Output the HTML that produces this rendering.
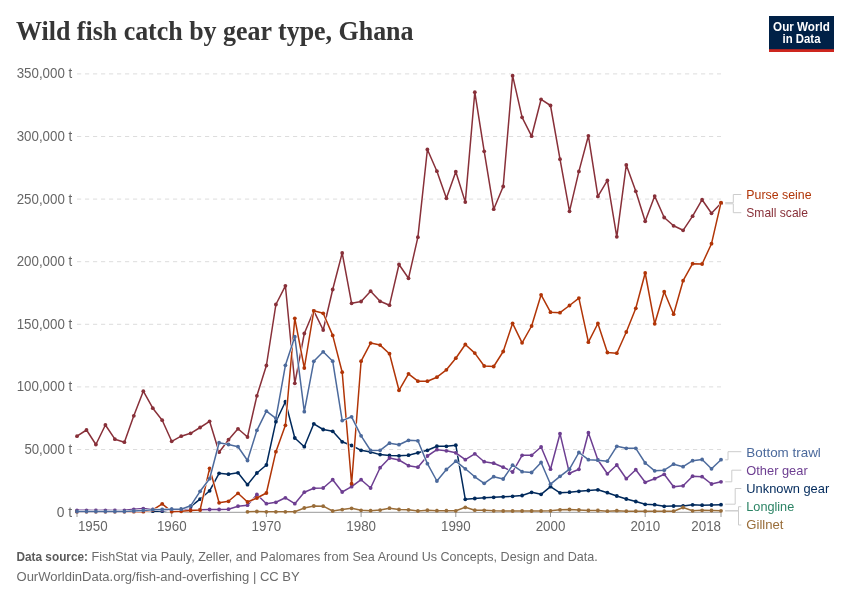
<!DOCTYPE html>
<html><head><meta charset="utf-8"><title>Wild fish catch by gear type, Ghana</title>
<style>
html,body{margin:0;padding:0;background:#fff;}
body{width:850px;height:600px;overflow:hidden;font-family:"Liberation Sans",sans-serif;}
svg{display:block;will-change:transform;}
svg text{font-family:"Liberation Sans",sans-serif;}
</style></head><body>
<svg width="850" height="600" viewBox="0 0 850 600">
<rect width="850" height="600" fill="#ffffff"/>
<text x="16" y="40" font-family="Liberation Serif" style="font-family:'Liberation Serif',serif" font-size="27" font-weight="bold" fill="#363636" textLength="397.5" lengthAdjust="spacingAndGlyphs">Wild fish catch by gear type, Ghana</text>
<g>
<rect x="769" y="16" width="65" height="36" fill="#002147"/>
<rect x="769" y="49.2" width="65" height="2.8" fill="#ce261e"/>
<text x="801.5" y="30.7" text-anchor="middle" font-size="12" font-weight="bold" fill="#ffffff" textLength="56.8" lengthAdjust="spacingAndGlyphs">Our World</text>
<text x="801.5" y="42.7" text-anchor="middle" font-size="12" font-weight="bold" fill="#ffffff" textLength="38" lengthAdjust="spacingAndGlyphs">in Data</text>
</g>
<g font-size="14.1" fill="#666666">
<text x="56.8" y="516.5" textLength="15.4" lengthAdjust="spacingAndGlyphs">0 t</text>
<text x="24.4" y="453.9" textLength="47.8" lengthAdjust="spacingAndGlyphs">50,000 t</text>
<text x="16.7" y="391.3" textLength="55.5" lengthAdjust="spacingAndGlyphs">100,000 t</text>
<text x="16.7" y="328.7" textLength="55.5" lengthAdjust="spacingAndGlyphs">150,000 t</text>
<text x="16.7" y="266.1" textLength="55.5" lengthAdjust="spacingAndGlyphs">200,000 t</text>
<text x="16.7" y="203.5" textLength="55.5" lengthAdjust="spacingAndGlyphs">250,000 t</text>
<text x="16.7" y="140.9" textLength="55.5" lengthAdjust="spacingAndGlyphs">300,000 t</text>
<text x="16.7" y="78.3" textLength="55.5" lengthAdjust="spacingAndGlyphs">350,000 t</text>
<line x1="77.0" x2="77.0" y1="512" y2="517" stroke="#999999" stroke-width="1"/>
<text x="77.9" y="530.5" textLength="29.7" lengthAdjust="spacingAndGlyphs">1950</text>
<line x1="171.7" x2="171.7" y1="512" y2="517" stroke="#999999" stroke-width="1"/>
<text x="156.9" y="530.5" textLength="29.7" lengthAdjust="spacingAndGlyphs">1960</text>
<line x1="266.4" x2="266.4" y1="512" y2="517" stroke="#999999" stroke-width="1"/>
<text x="251.6" y="530.5" textLength="29.7" lengthAdjust="spacingAndGlyphs">1970</text>
<line x1="361.1" x2="361.1" y1="512" y2="517" stroke="#999999" stroke-width="1"/>
<text x="346.3" y="530.5" textLength="29.7" lengthAdjust="spacingAndGlyphs">1980</text>
<line x1="455.8" x2="455.8" y1="512" y2="517" stroke="#999999" stroke-width="1"/>
<text x="441.0" y="530.5" textLength="29.7" lengthAdjust="spacingAndGlyphs">1990</text>
<line x1="550.5" x2="550.5" y1="512" y2="517" stroke="#999999" stroke-width="1"/>
<text x="535.7" y="530.5" textLength="29.7" lengthAdjust="spacingAndGlyphs">2000</text>
<line x1="645.2" x2="645.2" y1="512" y2="517" stroke="#999999" stroke-width="1"/>
<text x="630.4" y="530.5" textLength="29.7" lengthAdjust="spacingAndGlyphs">2010</text>
<line x1="721.0" x2="721.0" y1="512" y2="517" stroke="#999999" stroke-width="1"/>
<text x="691.3" y="530.5" textLength="29.7" lengthAdjust="spacingAndGlyphs">2018</text>
</g>
<line x1="77" x2="721" y1="449.5" y2="449.5" stroke="#dddddd" stroke-width="1" stroke-dasharray="4.2,3.8"/>
<line x1="77" x2="721" y1="386.9" y2="386.9" stroke="#dddddd" stroke-width="1" stroke-dasharray="4.2,3.8"/>
<line x1="77" x2="721" y1="324.3" y2="324.3" stroke="#dddddd" stroke-width="1" stroke-dasharray="4.2,3.8"/>
<line x1="77" x2="721" y1="261.7" y2="261.7" stroke="#dddddd" stroke-width="1" stroke-dasharray="4.2,3.8"/>
<line x1="77" x2="721" y1="199.1" y2="199.1" stroke="#dddddd" stroke-width="1" stroke-dasharray="4.2,3.8"/>
<line x1="77" x2="721" y1="136.5" y2="136.5" stroke="#dddddd" stroke-width="1" stroke-dasharray="4.2,3.8"/>
<line x1="77" x2="721" y1="73.9" y2="73.9" stroke="#dddddd" stroke-width="1" stroke-dasharray="4.2,3.8"/>
<line x1="77" x2="721" y1="512.3" y2="512.3" stroke="#999999" stroke-width="1"/>
<path d="M77.0,511.2 L86.5,511.2 L95.9,511.2 L105.4,511.2 L114.9,511.2 L124.4,511.2 L133.8,511.2 L143.3,511.2 L152.8,511.2 L162.2,511.2 L171.7,509.5 L181.2,509.2 L190.6,506.7 L200.1,499.2 L209.6,490.8 L219.1,473.3 L228.5,474.2 L238.0,472.8 L247.5,484.7 L256.9,473.0 L266.4,465.0 L275.9,421.7 L285.4,401.7 L294.8,438.0 L304.3,446.7 L313.8,423.8 L323.2,429.5 L332.7,431.3 L342.2,441.8 L351.6,445.5 L361.1,450.3 L370.6,452.0 L380.1,454.6 L389.5,455.5 L399.0,455.8 L408.5,455.2 L417.9,452.8 L427.4,450.3 L436.9,446.2 L446.4,446.3 L455.8,445.2 L465.3,499.3 L474.8,498.5 L484.2,497.8 L493.7,497.3 L503.2,496.8 L512.6,496.3 L522.1,495.5 L531.6,492.3 L541.1,494.3 L550.5,486.7 L560.0,492.8 L569.5,492.2 L578.9,491.3 L588.4,490.5 L597.9,489.8 L607.4,492.7 L616.8,496.0 L626.3,499.0 L635.8,501.5 L645.2,504.3 L654.7,504.7 L664.2,506.3 L673.6,506.0 L683.1,506.0 L692.6,504.8 L702.1,505.2 L711.5,505.0 L721.0,504.7" fill="none" stroke="#fff" stroke-width="2.5" stroke-linejoin="round" stroke-linecap="butt"/>
<path d="M77.0,511.2 L86.5,511.2 L95.9,511.2 L105.4,511.2 L114.9,511.2 L124.4,511.2 L133.8,511.2 L143.3,511.2 L152.8,511.2 L162.2,511.2 L171.7,509.5 L181.2,509.2 L190.6,506.7 L200.1,499.2 L209.6,490.8 L219.1,473.3 L228.5,474.2 L238.0,472.8 L247.5,484.7 L256.9,473.0 L266.4,465.0 L275.9,421.7 L285.4,401.7 L294.8,438.0 L304.3,446.7 L313.8,423.8 L323.2,429.5 L332.7,431.3 L342.2,441.8 L351.6,445.5 L361.1,450.3 L370.6,452.0 L380.1,454.6 L389.5,455.5 L399.0,455.8 L408.5,455.2 L417.9,452.8 L427.4,450.3 L436.9,446.2 L446.4,446.3 L455.8,445.2 L465.3,499.3 L474.8,498.5 L484.2,497.8 L493.7,497.3 L503.2,496.8 L512.6,496.3 L522.1,495.5 L531.6,492.3 L541.1,494.3 L550.5,486.7 L560.0,492.8 L569.5,492.2 L578.9,491.3 L588.4,490.5 L597.9,489.8 L607.4,492.7 L616.8,496.0 L626.3,499.0 L635.8,501.5 L645.2,504.3 L654.7,504.7 L664.2,506.3 L673.6,506.0 L683.1,506.0 L692.6,504.8 L702.1,505.2 L711.5,505.0 L721.0,504.7" fill="none" stroke="#00295B" stroke-width="1.5" stroke-linejoin="round" stroke-linecap="butt"/>
<g fill="#00295B"><circle cx="77.0" cy="511.2" r="1.9"/><circle cx="86.5" cy="511.2" r="1.9"/><circle cx="95.9" cy="511.2" r="1.9"/><circle cx="105.4" cy="511.2" r="1.9"/><circle cx="114.9" cy="511.2" r="1.9"/><circle cx="124.4" cy="511.2" r="1.9"/><circle cx="133.8" cy="511.2" r="1.9"/><circle cx="143.3" cy="511.2" r="1.9"/><circle cx="152.8" cy="511.2" r="1.9"/><circle cx="162.2" cy="511.2" r="1.9"/><circle cx="171.7" cy="509.5" r="1.9"/><circle cx="181.2" cy="509.2" r="1.9"/><circle cx="190.6" cy="506.7" r="1.9"/><circle cx="200.1" cy="499.2" r="1.9"/><circle cx="209.6" cy="490.8" r="1.9"/><circle cx="219.1" cy="473.3" r="1.9"/><circle cx="228.5" cy="474.2" r="1.9"/><circle cx="238.0" cy="472.8" r="1.9"/><circle cx="247.5" cy="484.7" r="1.9"/><circle cx="256.9" cy="473.0" r="1.9"/><circle cx="266.4" cy="465.0" r="1.9"/><circle cx="275.9" cy="421.7" r="1.9"/><circle cx="285.4" cy="401.7" r="1.9"/><circle cx="294.8" cy="438.0" r="1.9"/><circle cx="304.3" cy="446.7" r="1.9"/><circle cx="313.8" cy="423.8" r="1.9"/><circle cx="323.2" cy="429.5" r="1.9"/><circle cx="332.7" cy="431.3" r="1.9"/><circle cx="342.2" cy="441.8" r="1.9"/><circle cx="351.6" cy="445.5" r="1.9"/><circle cx="361.1" cy="450.3" r="1.9"/><circle cx="370.6" cy="452.0" r="1.9"/><circle cx="380.1" cy="454.6" r="1.9"/><circle cx="389.5" cy="455.5" r="1.9"/><circle cx="399.0" cy="455.8" r="1.9"/><circle cx="408.5" cy="455.2" r="1.9"/><circle cx="417.9" cy="452.8" r="1.9"/><circle cx="427.4" cy="450.3" r="1.9"/><circle cx="436.9" cy="446.2" r="1.9"/><circle cx="446.4" cy="446.3" r="1.9"/><circle cx="455.8" cy="445.2" r="1.9"/><circle cx="465.3" cy="499.3" r="1.9"/><circle cx="474.8" cy="498.5" r="1.9"/><circle cx="484.2" cy="497.8" r="1.9"/><circle cx="493.7" cy="497.3" r="1.9"/><circle cx="503.2" cy="496.8" r="1.9"/><circle cx="512.6" cy="496.3" r="1.9"/><circle cx="522.1" cy="495.5" r="1.9"/><circle cx="531.6" cy="492.3" r="1.9"/><circle cx="541.1" cy="494.3" r="1.9"/><circle cx="550.5" cy="486.7" r="1.9"/><circle cx="560.0" cy="492.8" r="1.9"/><circle cx="569.5" cy="492.2" r="1.9"/><circle cx="578.9" cy="491.3" r="1.9"/><circle cx="588.4" cy="490.5" r="1.9"/><circle cx="597.9" cy="489.8" r="1.9"/><circle cx="607.4" cy="492.7" r="1.9"/><circle cx="616.8" cy="496.0" r="1.9"/><circle cx="626.3" cy="499.0" r="1.9"/><circle cx="635.8" cy="501.5" r="1.9"/><circle cx="645.2" cy="504.3" r="1.9"/><circle cx="654.7" cy="504.7" r="1.9"/><circle cx="664.2" cy="506.3" r="1.9"/><circle cx="673.6" cy="506.0" r="1.9"/><circle cx="683.1" cy="506.0" r="1.9"/><circle cx="692.6" cy="504.8" r="1.9"/><circle cx="702.1" cy="505.2" r="1.9"/><circle cx="711.5" cy="505.0" r="1.9"/><circle cx="721.0" cy="504.7" r="1.9"/></g>
<path d="M77.0,510.3 L86.5,510.3 L95.9,510.5 L105.4,510.3 L114.9,510.5 L124.4,510.3 L133.8,509.3 L143.3,508.6 L152.8,509.5 L162.2,510.0 L171.7,509.7 L181.2,509.7 L190.6,509.7 L200.1,509.7 L209.6,509.5 L219.1,509.5 L228.5,509.2 L238.0,506.2 L247.5,505.2 L256.9,494.5 L266.4,503.7 L275.9,502.3 L285.4,497.8 L294.8,503.7 L304.3,492.2 L313.8,488.3 L323.2,488.0 L332.7,479.7 L342.2,492.0 L351.6,486.7 L361.1,479.7 L370.6,488.0 L380.1,467.7 L389.5,458.0 L399.0,460.0 L408.5,465.7 L417.9,467.2 L427.4,456.0 L436.9,449.7 L446.4,450.8 L455.8,452.8 L465.3,459.7 L474.8,453.8 L484.2,461.7 L493.7,463.2 L503.2,467.2 L512.6,472.0 L522.1,455.3 L531.6,455.3 L541.1,447.0 L550.5,469.2 L560.0,433.7 L569.5,473.3 L578.9,469.3 L588.4,432.7 L597.9,460.0 L607.4,473.8 L616.8,465.0 L626.3,478.7 L635.8,469.7 L645.2,482.3 L654.7,478.7 L664.2,474.3 L673.6,486.7 L683.1,485.8 L692.6,476.2 L702.1,476.7 L711.5,484.0 L721.0,481.8" fill="none" stroke="#fff" stroke-width="2.5" stroke-linejoin="round" stroke-linecap="butt"/>
<path d="M77.0,510.3 L86.5,510.3 L95.9,510.5 L105.4,510.3 L114.9,510.5 L124.4,510.3 L133.8,509.3 L143.3,508.6 L152.8,509.5 L162.2,510.0 L171.7,509.7 L181.2,509.7 L190.6,509.7 L200.1,509.7 L209.6,509.5 L219.1,509.5 L228.5,509.2 L238.0,506.2 L247.5,505.2 L256.9,494.5 L266.4,503.7 L275.9,502.3 L285.4,497.8 L294.8,503.7 L304.3,492.2 L313.8,488.3 L323.2,488.0 L332.7,479.7 L342.2,492.0 L351.6,486.7 L361.1,479.7 L370.6,488.0 L380.1,467.7 L389.5,458.0 L399.0,460.0 L408.5,465.7 L417.9,467.2 L427.4,456.0 L436.9,449.7 L446.4,450.8 L455.8,452.8 L465.3,459.7 L474.8,453.8 L484.2,461.7 L493.7,463.2 L503.2,467.2 L512.6,472.0 L522.1,455.3 L531.6,455.3 L541.1,447.0 L550.5,469.2 L560.0,433.7 L569.5,473.3 L578.9,469.3 L588.4,432.7 L597.9,460.0 L607.4,473.8 L616.8,465.0 L626.3,478.7 L635.8,469.7 L645.2,482.3 L654.7,478.7 L664.2,474.3 L673.6,486.7 L683.1,485.8 L692.6,476.2 L702.1,476.7 L711.5,484.0 L721.0,481.8" fill="none" stroke="#6D3E91" stroke-width="1.5" stroke-linejoin="round" stroke-linecap="butt"/>
<g fill="#6D3E91"><circle cx="77.0" cy="510.3" r="1.9"/><circle cx="86.5" cy="510.3" r="1.9"/><circle cx="95.9" cy="510.5" r="1.9"/><circle cx="105.4" cy="510.3" r="1.9"/><circle cx="114.9" cy="510.5" r="1.9"/><circle cx="124.4" cy="510.3" r="1.9"/><circle cx="133.8" cy="509.3" r="1.9"/><circle cx="143.3" cy="508.6" r="1.9"/><circle cx="152.8" cy="509.5" r="1.9"/><circle cx="162.2" cy="510.0" r="1.9"/><circle cx="171.7" cy="509.7" r="1.9"/><circle cx="181.2" cy="509.7" r="1.9"/><circle cx="190.6" cy="509.7" r="1.9"/><circle cx="200.1" cy="509.7" r="1.9"/><circle cx="209.6" cy="509.5" r="1.9"/><circle cx="219.1" cy="509.5" r="1.9"/><circle cx="228.5" cy="509.2" r="1.9"/><circle cx="238.0" cy="506.2" r="1.9"/><circle cx="247.5" cy="505.2" r="1.9"/><circle cx="256.9" cy="494.5" r="1.9"/><circle cx="266.4" cy="503.7" r="1.9"/><circle cx="275.9" cy="502.3" r="1.9"/><circle cx="285.4" cy="497.8" r="1.9"/><circle cx="294.8" cy="503.7" r="1.9"/><circle cx="304.3" cy="492.2" r="1.9"/><circle cx="313.8" cy="488.3" r="1.9"/><circle cx="323.2" cy="488.0" r="1.9"/><circle cx="332.7" cy="479.7" r="1.9"/><circle cx="342.2" cy="492.0" r="1.9"/><circle cx="351.6" cy="486.7" r="1.9"/><circle cx="361.1" cy="479.7" r="1.9"/><circle cx="370.6" cy="488.0" r="1.9"/><circle cx="380.1" cy="467.7" r="1.9"/><circle cx="389.5" cy="458.0" r="1.9"/><circle cx="399.0" cy="460.0" r="1.9"/><circle cx="408.5" cy="465.7" r="1.9"/><circle cx="417.9" cy="467.2" r="1.9"/><circle cx="427.4" cy="456.0" r="1.9"/><circle cx="436.9" cy="449.7" r="1.9"/><circle cx="446.4" cy="450.8" r="1.9"/><circle cx="455.8" cy="452.8" r="1.9"/><circle cx="465.3" cy="459.7" r="1.9"/><circle cx="474.8" cy="453.8" r="1.9"/><circle cx="484.2" cy="461.7" r="1.9"/><circle cx="493.7" cy="463.2" r="1.9"/><circle cx="503.2" cy="467.2" r="1.9"/><circle cx="512.6" cy="472.0" r="1.9"/><circle cx="522.1" cy="455.3" r="1.9"/><circle cx="531.6" cy="455.3" r="1.9"/><circle cx="541.1" cy="447.0" r="1.9"/><circle cx="550.5" cy="469.2" r="1.9"/><circle cx="560.0" cy="433.7" r="1.9"/><circle cx="569.5" cy="473.3" r="1.9"/><circle cx="578.9" cy="469.3" r="1.9"/><circle cx="588.4" cy="432.7" r="1.9"/><circle cx="597.9" cy="460.0" r="1.9"/><circle cx="607.4" cy="473.8" r="1.9"/><circle cx="616.8" cy="465.0" r="1.9"/><circle cx="626.3" cy="478.7" r="1.9"/><circle cx="635.8" cy="469.7" r="1.9"/><circle cx="645.2" cy="482.3" r="1.9"/><circle cx="654.7" cy="478.7" r="1.9"/><circle cx="664.2" cy="474.3" r="1.9"/><circle cx="673.6" cy="486.7" r="1.9"/><circle cx="683.1" cy="485.8" r="1.9"/><circle cx="692.6" cy="476.2" r="1.9"/><circle cx="702.1" cy="476.7" r="1.9"/><circle cx="711.5" cy="484.0" r="1.9"/><circle cx="721.0" cy="481.8" r="1.9"/></g>
<path d="M247.5,511.8 L256.9,511.5 L266.4,511.8 L275.9,511.8 L285.4,511.8 L294.8,511.8 L304.3,508.0 L313.8,506.0 L323.2,506.2 L332.7,511.0 L342.2,509.6 L351.6,508.3 L361.1,510.3 L370.6,510.7 L380.1,510.1 L389.5,508.2 L399.0,509.5 L408.5,509.8 L417.9,511.0 L427.4,510.2 L436.9,510.7 L446.4,510.7 L455.8,510.8 L465.3,507.3 L474.8,510.2 L484.2,510.3 L493.7,510.8 L503.2,511.0 L512.6,511.0 L522.1,511.0 L531.6,511.0 L541.1,511.0 L550.5,510.8 L560.0,509.8 L569.5,509.5 L578.9,510.0 L588.4,510.5 L597.9,510.5 L607.4,511.2 L616.8,510.7 L626.3,511.2 L635.8,511.2 L645.2,511.2 L654.7,511.2 L664.2,511.2 L673.6,511.2 L683.1,507.5 L692.6,510.8 L702.1,510.3 L711.5,510.5 L721.0,510.8" fill="none" stroke="#fff" stroke-width="2.5" stroke-linejoin="round" stroke-linecap="butt"/>
<path d="M247.5,511.8 L256.9,511.5 L266.4,511.8 L275.9,511.8 L285.4,511.8 L294.8,511.8 L304.3,508.0 L313.8,506.0 L323.2,506.2 L332.7,511.0 L342.2,509.6 L351.6,508.3 L361.1,510.3 L370.6,510.7 L380.1,510.1 L389.5,508.2 L399.0,509.5 L408.5,509.8 L417.9,511.0 L427.4,510.2 L436.9,510.7 L446.4,510.7 L455.8,510.8 L465.3,507.3 L474.8,510.2 L484.2,510.3 L493.7,510.8 L503.2,511.0 L512.6,511.0 L522.1,511.0 L531.6,511.0 L541.1,511.0 L550.5,510.8 L560.0,509.8 L569.5,509.5 L578.9,510.0 L588.4,510.5 L597.9,510.5 L607.4,511.2 L616.8,510.7 L626.3,511.2 L635.8,511.2 L645.2,511.2 L654.7,511.2 L664.2,511.2 L673.6,511.2 L683.1,507.5 L692.6,510.8 L702.1,510.3 L711.5,510.5 L721.0,510.8" fill="none" stroke="#996D39" stroke-width="1.5" stroke-linejoin="round" stroke-linecap="butt"/>
<g fill="#996D39"><circle cx="247.5" cy="511.8" r="1.9"/><circle cx="256.9" cy="511.5" r="1.9"/><circle cx="266.4" cy="511.8" r="1.9"/><circle cx="275.9" cy="511.8" r="1.9"/><circle cx="285.4" cy="511.8" r="1.9"/><circle cx="294.8" cy="511.8" r="1.9"/><circle cx="304.3" cy="508.0" r="1.9"/><circle cx="313.8" cy="506.0" r="1.9"/><circle cx="323.2" cy="506.2" r="1.9"/><circle cx="332.7" cy="511.0" r="1.9"/><circle cx="342.2" cy="509.6" r="1.9"/><circle cx="351.6" cy="508.3" r="1.9"/><circle cx="361.1" cy="510.3" r="1.9"/><circle cx="370.6" cy="510.7" r="1.9"/><circle cx="380.1" cy="510.1" r="1.9"/><circle cx="389.5" cy="508.2" r="1.9"/><circle cx="399.0" cy="509.5" r="1.9"/><circle cx="408.5" cy="509.8" r="1.9"/><circle cx="417.9" cy="511.0" r="1.9"/><circle cx="427.4" cy="510.2" r="1.9"/><circle cx="436.9" cy="510.7" r="1.9"/><circle cx="446.4" cy="510.7" r="1.9"/><circle cx="455.8" cy="510.8" r="1.9"/><circle cx="465.3" cy="507.3" r="1.9"/><circle cx="474.8" cy="510.2" r="1.9"/><circle cx="484.2" cy="510.3" r="1.9"/><circle cx="493.7" cy="510.8" r="1.9"/><circle cx="503.2" cy="511.0" r="1.9"/><circle cx="512.6" cy="511.0" r="1.9"/><circle cx="522.1" cy="511.0" r="1.9"/><circle cx="531.6" cy="511.0" r="1.9"/><circle cx="541.1" cy="511.0" r="1.9"/><circle cx="550.5" cy="510.8" r="1.9"/><circle cx="560.0" cy="509.8" r="1.9"/><circle cx="569.5" cy="509.5" r="1.9"/><circle cx="578.9" cy="510.0" r="1.9"/><circle cx="588.4" cy="510.5" r="1.9"/><circle cx="597.9" cy="510.5" r="1.9"/><circle cx="607.4" cy="511.2" r="1.9"/><circle cx="616.8" cy="510.7" r="1.9"/><circle cx="626.3" cy="511.2" r="1.9"/><circle cx="635.8" cy="511.2" r="1.9"/><circle cx="645.2" cy="511.2" r="1.9"/><circle cx="654.7" cy="511.2" r="1.9"/><circle cx="664.2" cy="511.2" r="1.9"/><circle cx="673.6" cy="511.2" r="1.9"/><circle cx="683.1" cy="507.5" r="1.9"/><circle cx="692.6" cy="510.8" r="1.9"/><circle cx="702.1" cy="510.3" r="1.9"/><circle cx="711.5" cy="510.5" r="1.9"/><circle cx="721.0" cy="510.8" r="1.9"/></g>
<path d="M77.0,436.2 L86.5,430.0 L95.9,444.5 L105.4,425.0 L114.9,439.2 L124.4,442.2 L133.8,415.8 L143.3,391.2 L152.8,408.2 L162.2,420.2 L171.7,441.3 L181.2,436.2 L190.6,433.3 L200.1,427.5 L209.6,421.3 L219.1,452.2 L228.5,439.7 L238.0,428.8 L247.5,437.0 L256.9,395.8 L266.4,365.5 L275.9,304.5 L285.4,285.8 L294.8,383.3 L304.3,333.5 L313.8,310.8 L323.2,330.0 L332.7,289.5 L342.2,253.0 L351.6,303.3 L361.1,301.5 L370.6,291.2 L380.1,301.3 L389.5,305.2 L399.0,264.5 L408.5,278.3 L417.9,237.2 L427.4,149.5 L436.9,171.2 L446.4,198.3 L455.8,171.7 L465.3,202.1 L474.8,92.2 L484.2,151.3 L493.7,209.2 L503.2,186.5 L512.6,75.7 L522.1,117.3 L531.6,136.2 L541.1,99.3 L550.5,105.5 L560.0,159.2 L569.5,211.3 L578.9,171.4 L588.4,135.8 L597.9,196.4 L607.4,180.4 L616.8,236.8 L626.3,164.9 L635.8,191.3 L645.2,221.3 L654.7,196.1 L664.2,217.5 L673.6,225.8 L683.1,230.3 L692.6,216.2 L702.1,199.7 L711.5,213.3 L721.0,203.2" fill="none" stroke="#fff" stroke-width="2.5" stroke-linejoin="round" stroke-linecap="butt"/>
<path d="M77.0,436.2 L86.5,430.0 L95.9,444.5 L105.4,425.0 L114.9,439.2 L124.4,442.2 L133.8,415.8 L143.3,391.2 L152.8,408.2 L162.2,420.2 L171.7,441.3 L181.2,436.2 L190.6,433.3 L200.1,427.5 L209.6,421.3 L219.1,452.2 L228.5,439.7 L238.0,428.8 L247.5,437.0 L256.9,395.8 L266.4,365.5 L275.9,304.5 L285.4,285.8 L294.8,383.3 L304.3,333.5 L313.8,310.8 L323.2,330.0 L332.7,289.5 L342.2,253.0 L351.6,303.3 L361.1,301.5 L370.6,291.2 L380.1,301.3 L389.5,305.2 L399.0,264.5 L408.5,278.3 L417.9,237.2 L427.4,149.5 L436.9,171.2 L446.4,198.3 L455.8,171.7 L465.3,202.1 L474.8,92.2 L484.2,151.3 L493.7,209.2 L503.2,186.5 L512.6,75.7 L522.1,117.3 L531.6,136.2 L541.1,99.3 L550.5,105.5 L560.0,159.2 L569.5,211.3 L578.9,171.4 L588.4,135.8 L597.9,196.4 L607.4,180.4 L616.8,236.8 L626.3,164.9 L635.8,191.3 L645.2,221.3 L654.7,196.1 L664.2,217.5 L673.6,225.8 L683.1,230.3 L692.6,216.2 L702.1,199.7 L711.5,213.3 L721.0,203.2" fill="none" stroke="#883039" stroke-width="1.5" stroke-linejoin="round" stroke-linecap="butt"/>
<g fill="#883039"><circle cx="77.0" cy="436.2" r="1.9"/><circle cx="86.5" cy="430.0" r="1.9"/><circle cx="95.9" cy="444.5" r="1.9"/><circle cx="105.4" cy="425.0" r="1.9"/><circle cx="114.9" cy="439.2" r="1.9"/><circle cx="124.4" cy="442.2" r="1.9"/><circle cx="133.8" cy="415.8" r="1.9"/><circle cx="143.3" cy="391.2" r="1.9"/><circle cx="152.8" cy="408.2" r="1.9"/><circle cx="162.2" cy="420.2" r="1.9"/><circle cx="171.7" cy="441.3" r="1.9"/><circle cx="181.2" cy="436.2" r="1.9"/><circle cx="190.6" cy="433.3" r="1.9"/><circle cx="200.1" cy="427.5" r="1.9"/><circle cx="209.6" cy="421.3" r="1.9"/><circle cx="219.1" cy="452.2" r="1.9"/><circle cx="228.5" cy="439.7" r="1.9"/><circle cx="238.0" cy="428.8" r="1.9"/><circle cx="247.5" cy="437.0" r="1.9"/><circle cx="256.9" cy="395.8" r="1.9"/><circle cx="266.4" cy="365.5" r="1.9"/><circle cx="275.9" cy="304.5" r="1.9"/><circle cx="285.4" cy="285.8" r="1.9"/><circle cx="294.8" cy="383.3" r="1.9"/><circle cx="304.3" cy="333.5" r="1.9"/><circle cx="313.8" cy="310.8" r="1.9"/><circle cx="323.2" cy="330.0" r="1.9"/><circle cx="332.7" cy="289.5" r="1.9"/><circle cx="342.2" cy="253.0" r="1.9"/><circle cx="351.6" cy="303.3" r="1.9"/><circle cx="361.1" cy="301.5" r="1.9"/><circle cx="370.6" cy="291.2" r="1.9"/><circle cx="380.1" cy="301.3" r="1.9"/><circle cx="389.5" cy="305.2" r="1.9"/><circle cx="399.0" cy="264.5" r="1.9"/><circle cx="408.5" cy="278.3" r="1.9"/><circle cx="417.9" cy="237.2" r="1.9"/><circle cx="427.4" cy="149.5" r="1.9"/><circle cx="436.9" cy="171.2" r="1.9"/><circle cx="446.4" cy="198.3" r="1.9"/><circle cx="455.8" cy="171.7" r="1.9"/><circle cx="465.3" cy="202.1" r="1.9"/><circle cx="474.8" cy="92.2" r="1.9"/><circle cx="484.2" cy="151.3" r="1.9"/><circle cx="493.7" cy="209.2" r="1.9"/><circle cx="503.2" cy="186.5" r="1.9"/><circle cx="512.6" cy="75.7" r="1.9"/><circle cx="522.1" cy="117.3" r="1.9"/><circle cx="531.6" cy="136.2" r="1.9"/><circle cx="541.1" cy="99.3" r="1.9"/><circle cx="550.5" cy="105.5" r="1.9"/><circle cx="560.0" cy="159.2" r="1.9"/><circle cx="569.5" cy="211.3" r="1.9"/><circle cx="578.9" cy="171.4" r="1.9"/><circle cx="588.4" cy="135.8" r="1.9"/><circle cx="597.9" cy="196.4" r="1.9"/><circle cx="607.4" cy="180.4" r="1.9"/><circle cx="616.8" cy="236.8" r="1.9"/><circle cx="626.3" cy="164.9" r="1.9"/><circle cx="635.8" cy="191.3" r="1.9"/><circle cx="645.2" cy="221.3" r="1.9"/><circle cx="654.7" cy="196.1" r="1.9"/><circle cx="664.2" cy="217.5" r="1.9"/><circle cx="673.6" cy="225.8" r="1.9"/><circle cx="683.1" cy="230.3" r="1.9"/><circle cx="692.6" cy="216.2" r="1.9"/><circle cx="702.1" cy="199.7" r="1.9"/><circle cx="711.5" cy="213.3" r="1.9"/><circle cx="721.0" cy="203.2" r="1.9"/></g>
<path d="M77.0,511.7 L86.5,511.7 L95.9,511.7 L105.4,511.7 L114.9,511.7 L124.4,511.7 L133.8,511.7 L143.3,511.7 L152.8,510.0 L162.2,503.8 L171.7,511.7 L181.2,511.3 L190.6,510.5 L200.1,510.0 L209.6,468.3 L219.1,502.8 L228.5,501.3 L238.0,493.3 L247.5,502.0 L256.9,498.0 L266.4,493.0 L275.9,451.7 L285.4,425.3 L294.8,318.3 L304.3,368.0 L313.8,310.8 L323.2,313.3 L332.7,335.4 L342.2,372.2 L351.6,483.7 L361.1,361.2 L370.6,343.1 L380.1,345.1 L389.5,353.7 L399.0,390.3 L408.5,373.8 L417.9,381.2 L427.4,381.2 L436.9,377.2 L446.4,369.8 L455.8,358.2 L465.3,344.5 L474.8,353.1 L484.2,366.0 L493.7,366.5 L503.2,351.5 L512.6,323.3 L522.1,342.8 L531.6,326.0 L541.1,294.8 L550.5,312.2 L560.0,312.7 L569.5,305.5 L578.9,298.1 L588.4,342.2 L597.9,323.5 L607.4,352.5 L616.8,353.2 L626.3,332.0 L635.8,308.3 L645.2,273.0 L654.7,323.8 L664.2,291.7 L673.6,314.2 L683.1,280.7 L692.6,263.7 L702.1,264.0 L711.5,243.7 L721.0,202.7" fill="none" stroke="#fff" stroke-width="2.5" stroke-linejoin="round" stroke-linecap="butt"/>
<path d="M77.0,511.7 L86.5,511.7 L95.9,511.7 L105.4,511.7 L114.9,511.7 L124.4,511.7 L133.8,511.7 L143.3,511.7 L152.8,510.0 L162.2,503.8 L171.7,511.7 L181.2,511.3 L190.6,510.5 L200.1,510.0 L209.6,468.3 L219.1,502.8 L228.5,501.3 L238.0,493.3 L247.5,502.0 L256.9,498.0 L266.4,493.0 L275.9,451.7 L285.4,425.3 L294.8,318.3 L304.3,368.0 L313.8,310.8 L323.2,313.3 L332.7,335.4 L342.2,372.2 L351.6,483.7 L361.1,361.2 L370.6,343.1 L380.1,345.1 L389.5,353.7 L399.0,390.3 L408.5,373.8 L417.9,381.2 L427.4,381.2 L436.9,377.2 L446.4,369.8 L455.8,358.2 L465.3,344.5 L474.8,353.1 L484.2,366.0 L493.7,366.5 L503.2,351.5 L512.6,323.3 L522.1,342.8 L531.6,326.0 L541.1,294.8 L550.5,312.2 L560.0,312.7 L569.5,305.5 L578.9,298.1 L588.4,342.2 L597.9,323.5 L607.4,352.5 L616.8,353.2 L626.3,332.0 L635.8,308.3 L645.2,273.0 L654.7,323.8 L664.2,291.7 L673.6,314.2 L683.1,280.7 L692.6,263.7 L702.1,264.0 L711.5,243.7 L721.0,202.7" fill="none" stroke="#B13507" stroke-width="1.5" stroke-linejoin="round" stroke-linecap="butt"/>
<g fill="#B13507"><circle cx="77.0" cy="511.7" r="1.9"/><circle cx="86.5" cy="511.7" r="1.9"/><circle cx="95.9" cy="511.7" r="1.9"/><circle cx="105.4" cy="511.7" r="1.9"/><circle cx="114.9" cy="511.7" r="1.9"/><circle cx="124.4" cy="511.7" r="1.9"/><circle cx="133.8" cy="511.7" r="1.9"/><circle cx="143.3" cy="511.7" r="1.9"/><circle cx="152.8" cy="510.0" r="1.9"/><circle cx="162.2" cy="503.8" r="1.9"/><circle cx="171.7" cy="511.7" r="1.9"/><circle cx="181.2" cy="511.3" r="1.9"/><circle cx="190.6" cy="510.5" r="1.9"/><circle cx="200.1" cy="510.0" r="1.9"/><circle cx="209.6" cy="468.3" r="1.9"/><circle cx="219.1" cy="502.8" r="1.9"/><circle cx="228.5" cy="501.3" r="1.9"/><circle cx="238.0" cy="493.3" r="1.9"/><circle cx="247.5" cy="502.0" r="1.9"/><circle cx="256.9" cy="498.0" r="1.9"/><circle cx="266.4" cy="493.0" r="1.9"/><circle cx="275.9" cy="451.7" r="1.9"/><circle cx="285.4" cy="425.3" r="1.9"/><circle cx="294.8" cy="318.3" r="1.9"/><circle cx="304.3" cy="368.0" r="1.9"/><circle cx="313.8" cy="310.8" r="1.9"/><circle cx="323.2" cy="313.3" r="1.9"/><circle cx="332.7" cy="335.4" r="1.9"/><circle cx="342.2" cy="372.2" r="1.9"/><circle cx="351.6" cy="483.7" r="1.9"/><circle cx="361.1" cy="361.2" r="1.9"/><circle cx="370.6" cy="343.1" r="1.9"/><circle cx="380.1" cy="345.1" r="1.9"/><circle cx="389.5" cy="353.7" r="1.9"/><circle cx="399.0" cy="390.3" r="1.9"/><circle cx="408.5" cy="373.8" r="1.9"/><circle cx="417.9" cy="381.2" r="1.9"/><circle cx="427.4" cy="381.2" r="1.9"/><circle cx="436.9" cy="377.2" r="1.9"/><circle cx="446.4" cy="369.8" r="1.9"/><circle cx="455.8" cy="358.2" r="1.9"/><circle cx="465.3" cy="344.5" r="1.9"/><circle cx="474.8" cy="353.1" r="1.9"/><circle cx="484.2" cy="366.0" r="1.9"/><circle cx="493.7" cy="366.5" r="1.9"/><circle cx="503.2" cy="351.5" r="1.9"/><circle cx="512.6" cy="323.3" r="1.9"/><circle cx="522.1" cy="342.8" r="1.9"/><circle cx="531.6" cy="326.0" r="1.9"/><circle cx="541.1" cy="294.8" r="1.9"/><circle cx="550.5" cy="312.2" r="1.9"/><circle cx="560.0" cy="312.7" r="1.9"/><circle cx="569.5" cy="305.5" r="1.9"/><circle cx="578.9" cy="298.1" r="1.9"/><circle cx="588.4" cy="342.2" r="1.9"/><circle cx="597.9" cy="323.5" r="1.9"/><circle cx="607.4" cy="352.5" r="1.9"/><circle cx="616.8" cy="353.2" r="1.9"/><circle cx="626.3" cy="332.0" r="1.9"/><circle cx="635.8" cy="308.3" r="1.9"/><circle cx="645.2" cy="273.0" r="1.9"/><circle cx="654.7" cy="323.8" r="1.9"/><circle cx="664.2" cy="291.7" r="1.9"/><circle cx="673.6" cy="314.2" r="1.9"/><circle cx="683.1" cy="280.7" r="1.9"/><circle cx="692.6" cy="263.7" r="1.9"/><circle cx="702.1" cy="264.0" r="1.9"/><circle cx="711.5" cy="243.7" r="1.9"/><circle cx="721.0" cy="202.7" r="1.9"/></g>
<path d="M77.0,511.5 L86.5,511.5 L95.9,511.5 L105.4,511.5 L114.9,511.5 L124.4,511.5 L133.8,511.0 L143.3,510.5 L152.8,509.7 L162.2,509.4 L171.7,509.2 L181.2,509.2 L190.6,505.8 L200.1,491.3 L209.6,478.7 L219.1,442.7 L228.5,444.5 L238.0,446.7 L247.5,460.5 L256.9,430.3 L266.4,411.2 L275.9,418.3 L285.4,365.3 L294.8,336.7 L304.3,411.7 L313.8,361.3 L323.2,351.8 L332.7,361.2 L342.2,420.6 L351.6,416.8 L361.1,435.8 L370.6,450.5 L380.1,450.3 L389.5,443.2 L399.0,444.7 L408.5,440.3 L417.9,440.8 L427.4,463.7 L436.9,481.0 L446.4,469.5 L455.8,461.2 L465.3,468.8 L474.8,476.8 L484.2,483.3 L493.7,476.7 L503.2,479.0 L512.6,465.2 L522.1,471.7 L531.6,472.5 L541.1,462.5 L550.5,484.2 L560.0,476.3 L569.5,469.2 L578.9,452.5 L588.4,459.7 L597.9,460.2 L607.4,461.2 L616.8,446.3 L626.3,448.3 L635.8,448.3 L645.2,463.0 L654.7,470.8 L664.2,470.2 L673.6,464.2 L683.1,466.7 L692.6,460.7 L702.1,459.5 L711.5,468.8 L721.0,459.7" fill="none" stroke="#fff" stroke-width="2.5" stroke-linejoin="round" stroke-linecap="butt"/>
<path d="M77.0,511.5 L86.5,511.5 L95.9,511.5 L105.4,511.5 L114.9,511.5 L124.4,511.5 L133.8,511.0 L143.3,510.5 L152.8,509.7 L162.2,509.4 L171.7,509.2 L181.2,509.2 L190.6,505.8 L200.1,491.3 L209.6,478.7 L219.1,442.7 L228.5,444.5 L238.0,446.7 L247.5,460.5 L256.9,430.3 L266.4,411.2 L275.9,418.3 L285.4,365.3 L294.8,336.7 L304.3,411.7 L313.8,361.3 L323.2,351.8 L332.7,361.2 L342.2,420.6 L351.6,416.8 L361.1,435.8 L370.6,450.5 L380.1,450.3 L389.5,443.2 L399.0,444.7 L408.5,440.3 L417.9,440.8 L427.4,463.7 L436.9,481.0 L446.4,469.5 L455.8,461.2 L465.3,468.8 L474.8,476.8 L484.2,483.3 L493.7,476.7 L503.2,479.0 L512.6,465.2 L522.1,471.7 L531.6,472.5 L541.1,462.5 L550.5,484.2 L560.0,476.3 L569.5,469.2 L578.9,452.5 L588.4,459.7 L597.9,460.2 L607.4,461.2 L616.8,446.3 L626.3,448.3 L635.8,448.3 L645.2,463.0 L654.7,470.8 L664.2,470.2 L673.6,464.2 L683.1,466.7 L692.6,460.7 L702.1,459.5 L711.5,468.8 L721.0,459.7" fill="none" stroke="#4C6A9C" stroke-width="1.5" stroke-linejoin="round" stroke-linecap="butt"/>
<g fill="#4C6A9C"><circle cx="77.0" cy="511.5" r="1.9"/><circle cx="86.5" cy="511.5" r="1.9"/><circle cx="95.9" cy="511.5" r="1.9"/><circle cx="105.4" cy="511.5" r="1.9"/><circle cx="114.9" cy="511.5" r="1.9"/><circle cx="124.4" cy="511.5" r="1.9"/><circle cx="133.8" cy="511.0" r="1.9"/><circle cx="143.3" cy="510.5" r="1.9"/><circle cx="152.8" cy="509.7" r="1.9"/><circle cx="162.2" cy="509.4" r="1.9"/><circle cx="171.7" cy="509.2" r="1.9"/><circle cx="181.2" cy="509.2" r="1.9"/><circle cx="190.6" cy="505.8" r="1.9"/><circle cx="200.1" cy="491.3" r="1.9"/><circle cx="209.6" cy="478.7" r="1.9"/><circle cx="219.1" cy="442.7" r="1.9"/><circle cx="228.5" cy="444.5" r="1.9"/><circle cx="238.0" cy="446.7" r="1.9"/><circle cx="247.5" cy="460.5" r="1.9"/><circle cx="256.9" cy="430.3" r="1.9"/><circle cx="266.4" cy="411.2" r="1.9"/><circle cx="275.9" cy="418.3" r="1.9"/><circle cx="285.4" cy="365.3" r="1.9"/><circle cx="294.8" cy="336.7" r="1.9"/><circle cx="304.3" cy="411.7" r="1.9"/><circle cx="313.8" cy="361.3" r="1.9"/><circle cx="323.2" cy="351.8" r="1.9"/><circle cx="332.7" cy="361.2" r="1.9"/><circle cx="342.2" cy="420.6" r="1.9"/><circle cx="351.6" cy="416.8" r="1.9"/><circle cx="361.1" cy="435.8" r="1.9"/><circle cx="370.6" cy="450.5" r="1.9"/><circle cx="380.1" cy="450.3" r="1.9"/><circle cx="389.5" cy="443.2" r="1.9"/><circle cx="399.0" cy="444.7" r="1.9"/><circle cx="408.5" cy="440.3" r="1.9"/><circle cx="417.9" cy="440.8" r="1.9"/><circle cx="427.4" cy="463.7" r="1.9"/><circle cx="436.9" cy="481.0" r="1.9"/><circle cx="446.4" cy="469.5" r="1.9"/><circle cx="455.8" cy="461.2" r="1.9"/><circle cx="465.3" cy="468.8" r="1.9"/><circle cx="474.8" cy="476.8" r="1.9"/><circle cx="484.2" cy="483.3" r="1.9"/><circle cx="493.7" cy="476.7" r="1.9"/><circle cx="503.2" cy="479.0" r="1.9"/><circle cx="512.6" cy="465.2" r="1.9"/><circle cx="522.1" cy="471.7" r="1.9"/><circle cx="531.6" cy="472.5" r="1.9"/><circle cx="541.1" cy="462.5" r="1.9"/><circle cx="550.5" cy="484.2" r="1.9"/><circle cx="560.0" cy="476.3" r="1.9"/><circle cx="569.5" cy="469.2" r="1.9"/><circle cx="578.9" cy="452.5" r="1.9"/><circle cx="588.4" cy="459.7" r="1.9"/><circle cx="597.9" cy="460.2" r="1.9"/><circle cx="607.4" cy="461.2" r="1.9"/><circle cx="616.8" cy="446.3" r="1.9"/><circle cx="626.3" cy="448.3" r="1.9"/><circle cx="635.8" cy="448.3" r="1.9"/><circle cx="645.2" cy="463.0" r="1.9"/><circle cx="654.7" cy="470.8" r="1.9"/><circle cx="664.2" cy="470.2" r="1.9"/><circle cx="673.6" cy="464.2" r="1.9"/><circle cx="683.1" cy="466.7" r="1.9"/><circle cx="692.6" cy="460.7" r="1.9"/><circle cx="702.1" cy="459.5" r="1.9"/><circle cx="711.5" cy="468.8" r="1.9"/><circle cx="721.0" cy="459.7" r="1.9"/></g>
<g font-size="13">
<path d="M725.2,202.7 L733.3,202.7 L733.3,194.5 L741.3,194.5" fill="none" stroke="#cccccc" stroke-width="1"/>
<path d="M725.2,203.8 L733.3,203.8 L733.3,212.7 L741.3,212.7" fill="none" stroke="#cccccc" stroke-width="1"/>
<path d="M725.2,459.8 L728.0,459.8 L728.0,451.7 L741.3,451.7" fill="none" stroke="#cccccc" stroke-width="1"/>
<path d="M725.2,481.8 L731.8,481.8 L731.8,470.2 L741.3,470.2" fill="none" stroke="#cccccc" stroke-width="1"/>
<path d="M725.2,504.2 L735.2,504.2 L735.2,488.5 L741.3,488.5" fill="none" stroke="#cccccc" stroke-width="1"/>
<path d="M725.2,510.8 L738.5,510.8 L738.5,506.7 L741.3,506.7" fill="none" stroke="#cccccc" stroke-width="1"/>
<path d="M725.2,510.8 L738.5,510.8 L738.5,525.0 L741.3,525.0" fill="none" stroke="#cccccc" stroke-width="1"/>
<text x="746.3" y="199.0" fill="#B13507" textLength="65.2" lengthAdjust="spacingAndGlyphs">Purse seine</text>
<text x="746.3" y="217.0" fill="#883039" textLength="61.7" lengthAdjust="spacingAndGlyphs">Small scale</text>
<text x="746.3" y="456.5" fill="#4C6A9C" textLength="74.5" lengthAdjust="spacingAndGlyphs">Bottom trawl</text>
<text x="746.3" y="474.5" fill="#6D3E91" textLength="61.4" lengthAdjust="spacingAndGlyphs">Other gear</text>
<text x="746.3" y="492.6" fill="#00295B" textLength="82.9" lengthAdjust="spacingAndGlyphs">Unknown gear</text>
<text x="746.3" y="511.0" fill="#2C8465" textLength="47.9" lengthAdjust="spacingAndGlyphs">Longline</text>
<text x="746.3" y="529.0" fill="#996D39" textLength="37.2" lengthAdjust="spacingAndGlyphs">Gillnet</text>
</g>
<g font-size="13" fill="#5b5b5b">
<text x="16.5" y="561.2" textLength="71.5" lengthAdjust="spacingAndGlyphs" font-weight="bold">Data source:</text>
<text x="91.5" y="561.2" textLength="506.2" lengthAdjust="spacingAndGlyphs" fill="#6b6b6b">FishStat via Pauly, Zeller, and Palomares from Sea Around Us Concepts, Design and Data.</text>
<text x="16.5" y="581.4" textLength="283.2" lengthAdjust="spacingAndGlyphs" fill="#6b6b6b">OurWorldinData.org/fish-and-overfishing | CC BY</text>
</g>
</svg>
</body></html>
